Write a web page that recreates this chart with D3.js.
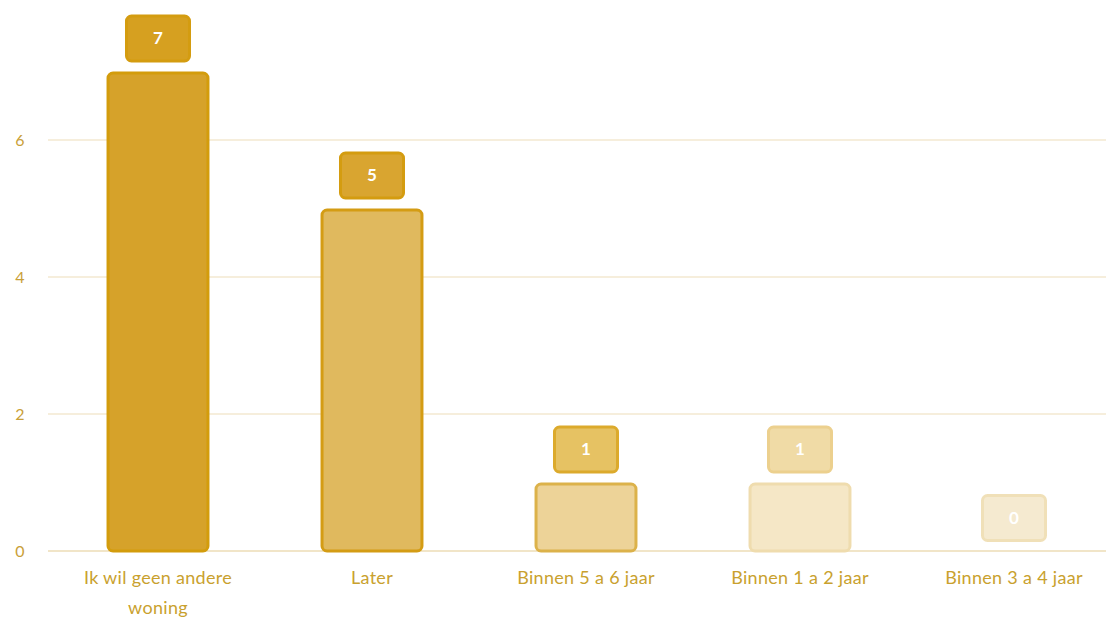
<!DOCTYPE html>
<html>
<head>
<meta charset="utf-8">
<script src="https://cdn.jsdelivr.net/npm/d3@7"></script>
<style>
  body { margin: 0; background: #fff; }
  svg { display: block; font-family: "Lato", "Open Sans", sans-serif; }
</style>
</head>
<body>
<div id="chart"></div>
<script>
const categories = ["Ik wil geen andere woning", "Later", "Binnen 5 a 6 jaar", "Binnen 1 a 2 jaar", "Binnen 3 a 4 jaar"]
const values = [7, 5, 1, 1, 0]
const yTicks = [0, 2, 4, 6]

const barFill = ["#d6a22a", "#e0b95e", "#edd398", "#f5e7c6", "#f6edd6"]
const barStroke = ["#d39c0c", "#d49c14", "#dcb24a", "#efdcae", "#efe2c0"]
const boxFill = ["#d6a020", "#d9a530", "#e6c263", "#f0dba6", "#f5ead0"]
const boxStroke = ["#d49c10", "#d49c10", "#dcaa2c", "#ecd08e", "#f0e0b8"]

const width = 1106
const height = 624

const x = d3.scaleBand()
    .domain(categories)
    .range([51, 1121])
    .paddingInner(0.519)
    .paddingOuter(0.2595)

const y = d3.scaleLinear()
    .domain([0, 7])
    .range([551, 71.5])

const svg = d3.select("#chart")
  .append("svg")
    .attr("width", width)
    .attr("height", height)

// gridlines
svg.append("g")
  .selectAll("line")
  .data(yTicks)
  .join("line")
    .attr("x1", 48)
    .attr("x2", width)
    .attr("y1", d => y(d))
    .attr("y2", d => y(d))
    .attr("stroke", d => d === 0 ? "#ecdcb6" : "#f3e8d0")
    .attr("stroke-width", 1.5)

svg.append("g")
  .selectAll("text")
  .data(yTicks)
  .join("text")
    .attr("x", 20)
    .attr("y", d => y(d))
    .attr("dy", "0.35em")
    .attr("text-anchor", "middle")
    .attr("fill", "#c9a038")
    .style("font-size", "16px")
    .text(d => d)

const data = categories.map((c, i) => ({ name: c, value: values[i], i }))

// bars
svg.append("g")
  .selectAll("rect")
  .data(data.filter(d => d.value > 0))
  .join("rect")
    .attr("x", d => x(d.name) + 1.5)
    .attr("y", d => y(d.value) + 1.5)
    .attr("width", x.bandwidth() - 3)
    .attr("height", d => y(0) - y(d.value) - 1.5)
    .attr("rx", 5)
    .attr("fill", d => barFill[d.i])
    .attr("stroke", d => barStroke[d.i])
    .attr("stroke-width", 3)

// value boxes
const boxW = 66, boxH = 48, gap = 9
const box = svg.append("g")
  .selectAll("g")
  .data(data)
  .join("g")
    .attr("transform", d => `translate(${x(d.name) + x.bandwidth() / 2},${y(d.value) - gap - boxH})`)

box.append("rect")
    .attr("x", -boxW / 2 + 1.5)
    .attr("y", 1.5)
    .attr("width", boxW - 3)
    .attr("height", boxH - 3)
    .attr("rx", 5)
    .attr("fill", d => boxFill[d.i])
    .attr("stroke", d => boxStroke[d.i])
    .attr("stroke-width", 3)

box.append("text")
    .attr("y", boxH / 2)
    .attr("dy", "0.35em")
    .attr("text-anchor", "middle")
    .attr("fill", "#fff")
    .style("font-size", "17px")
    .style("font-weight", "bold")
    .text(d => d.value)

// x labels
const xl = svg.append("g")
  .selectAll("text")
  .data(data)
  .join("text")
    .attr("x", d => x(d.name) + x.bandwidth() / 2)
    .attr("y", 584)
    .attr("text-anchor", "middle")
    .attr("fill", "#c9a12e")
    .style("font-size", "18px")
    .style("letter-spacing", "0.3px")

xl.each(function(d) {
  const t = d3.select(this)
  const lines = d.name === "Ik wil geen andere woning" ? ["Ik wil geen andere", "woning"] : [d.name]
  lines.forEach((l, k) => {
    t.append("tspan")
      .attr("x", x(d.name) + x.bandwidth() / 2)
      .attr("dy", k === 0 ? 0 : 30)
      .text(l)
  })
})
</script>
</body>
</html>
